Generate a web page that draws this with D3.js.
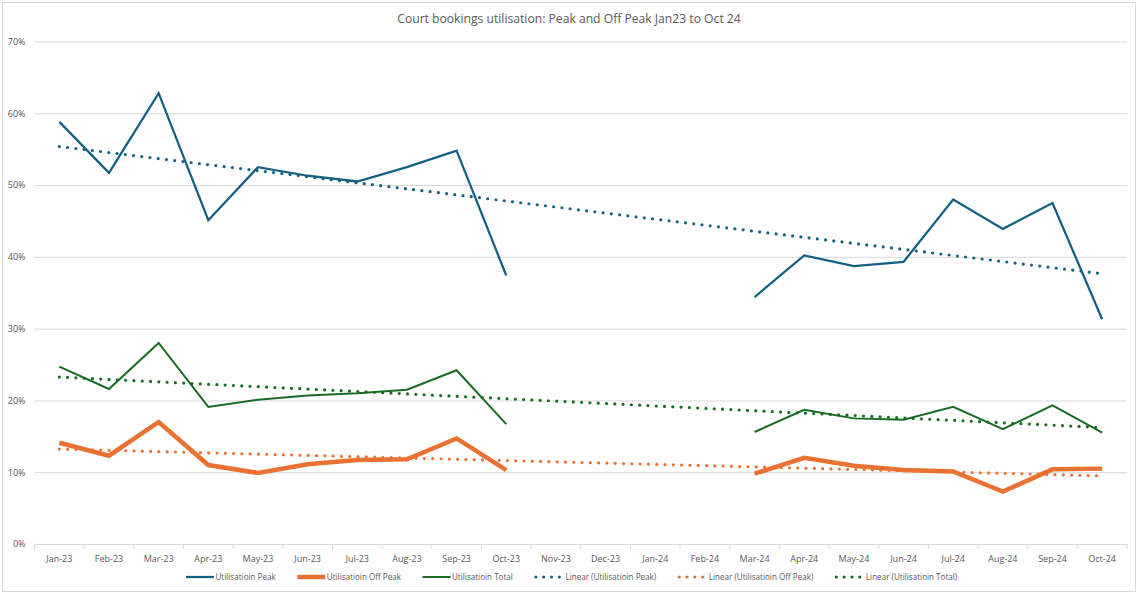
<!DOCTYPE html>
<html>
<head>
<meta charset="utf-8">
<script src="https://cdn.jsdelivr.net/npm/d3@7"></script>
<style>
  body { margin: 0; background: #fff; }
  #chart { width: 1138px; height: 594px; }
  text { font-family: "Open Sans", "Liberation Sans", sans-serif; fill: #595959; }
</style>
</head>
<body>
<div id="chart"></div>
<script>
// Datos
const months = ['Jan-23','Feb-23','Mar-23','Apr-23','May-23','Jun-23','Jul-23','Aug-23','Sep-23','Oct-23','Nov-23','Dec-23',
  'Jan-24','Feb-24','Mar-24','Apr-24','May-24','Jun-24','Jul-24','Aug-24','Sep-24','Oct-24'];
const peak = [0.588,0.517,0.628,0.451,0.525,0.513,0.505,0.525,0.548,0.374,null,null,
  null,null,0.344,0.402,0.387,0.393,0.480,0.439,0.475,0.313];
const offPeak = [0.141,0.123,0.170,0.110,0.099,0.111,0.117,0.118,0.147,0.103,null,null,
  null,null,0.098,0.120,0.109,0.103,0.101,0.073,0.104,0.105];
const total = [0.247,0.216,0.280,0.191,0.201,0.207,0.210,0.215,0.242,0.167,null,null,
  null,null,0.156,0.187,0.175,0.173,0.191,0.160,0.193,0.155];
const yTicks = [0,0.1,0.2,0.3,0.4,0.5,0.6,0.7];

const COLOR_PEAK = '#156082', COLOR_OFF = '#E97132', COLOR_TOTAL = '#196B24';

const series = [
  {name: 'Utilisatioin Peak', values: peak, color: COLOR_PEAK, width: 2.25},
  {name: 'Utilisatioin Off Peak', values: offPeak, color: COLOR_OFF, width: 4.5},
  {name: 'Utilisatioin Total', values: total, color: COLOR_TOTAL, width: 2}
];

//Tendencia lineal (mínimos cuadrados, x = 1..n como Excel)
function linearFit(values) {
  let pts = values.map((v, i) => [i + 1, v]).filter(p => p[1] != null);
  let mx = d3.mean(pts, p => p[0]), my = d3.mean(pts, p => p[1]);
  let b = d3.sum(pts, p => (p[0] - mx) * (p[1] - my)) / d3.sum(pts, p => (p[0] - mx) * (p[0] - mx));
  let a = my - b * mx;
  return values.map((v, i) => a + b * (i + 1));
}

let W = 1138, H = 594;
let margin = {top: 41.5, right: 11, bottom: 50, left: 34.5};
let width = W - margin.left - margin.right,
    height = H - margin.top - margin.bottom;

let svg = d3.select('#chart').append('svg')
  .attr('width', W).attr('height', H);

svg.append('rect')
  .attr('x', 2.5).attr('y', 2.5).attr('width', W - 5).attr('height', H - 5)
  .attr('fill', '#fff').attr('stroke', '#d9d9d9').attr('stroke-width', 1);

// Título (ajustado al ancho del original, ~344px)
let title = svg.append('text')
  .attr('x', 569).attr('y', 22.5)
  .attr('text-anchor', 'middle')
  .style('font-size', '12px')
  .text('Court bookings utilisation: Peak and Off Peak Jan23 to Oct 24');
title.style('font-size', (12 * 344 / title.node().getComputedTextLength()) + 'px');

let g = svg.append('g').attr('transform', `translate(${margin.left},${margin.top})`);

let x = d3.scaleBand().domain(months).range([0, width]).padding(0);
let y = d3.scaleLinear().domain([0, 0.7]).range([height, 0]);
let cx = d => x(d) + x.bandwidth() / 2;

// Eje Y + rejilla
let yAxis = function(g) {
  g.call(d3.axisLeft(y).tickValues(yTicks).tickFormat(d3.format('.0%')).tickSize(-width).tickPadding(9));
  g.call(g => g.select('.domain').remove());
  g.selectAll('.tick line').attr('stroke', '#d9d9d9').attr('stroke-width', 1)
    .filter(d => d === 0).remove();
  g.selectAll('.tick text').style('font-size', '9px').attr('fill', '#595959');
};
g.append('g').call(yAxis);

// Eje X
let xAxis = function(g) {
  g.call(d3.axisBottom(x).tickSize(0).tickPadding(12));
  g.select('.domain').attr('stroke', '#d9d9d9');
  g.selectAll('.tick text').style('font-size', '9px').attr('fill', '#595959');
};
let xg = g.append('g').attr('transform', `translate(0,${height})`).call(xAxis);
xg.selectAll('.sep')
  .data(months.concat(['end']))
  .enter().append('line')
  .attr('x1', (d, i) => i * x.bandwidth()).attr('x2', (d, i) => i * x.bandwidth())
  .attr('y1', 0).attr('y2', 5)
  .attr('stroke', '#d9d9d9');

// Líneas de tendencia
let trendLine = d3.line().x((d, i) => cx(months[i])).y(d => y(d));
series.forEach(s => {
  g.append('path')
    .datum(linearFit(s.values))
    .attr('d', trendLine)
    .attr('fill', 'none')
    .attr('stroke', s.color)
    .attr('stroke-width', 3.2)
    .attr('stroke-linecap', 'round')
    .attr('stroke-dasharray', '0 8.3');
});

// Series
let line = d3.line()
  .defined(d => d != null)
  .x((d, i) => cx(months[i]))
  .y(d => y(d));
series.forEach(s => {
  g.append('path')
    .datum(s.values)
    .attr('d', line)
    .attr('fill', 'none')
    .attr('stroke', s.color)
    .attr('stroke-width', s.width)
    .attr('stroke-linejoin', 'miter');
});

// Leyenda
let legendItems = series.map(s => ({label: s.name, color: s.color, width: s.width, dotted: false}))
  .concat(series.map(s => ({label: 'Linear (' + s.name + ')', color: s.color, width: 3.2, dotted: true})));

let legend = svg.append('g');
let items = legend.selectAll('g').data(legendItems).enter().append('g');
items.append('line')
  .attr('x1', d => d.dotted ? 1.5 : 0).attr('x2', d => d.dotted ? 25 : 28)
  .attr('y1', 0).attr('y2', 0)
  .attr('stroke', d => d.color)
  .attr('stroke-width', d => d.width)
  .attr('stroke-linecap', d => d.dotted ? 'round' : 'butt')
  .attr('stroke-dasharray', d => d.dotted ? '0 7.8' : null);
let labels = items.append('text')
  .attr('x', d => d.dotted ? 31 : 29.5).attr('y', 3)
  .style('font-size', '9px')
  .text(d => d.label);

// ancho total del texto en el original ~483px
let textW = d3.sum(labels.nodes(), n => n.getComputedTextLength());
labels.style('font-size', (9 * 483 / textW) + 'px');

let xPos = 0;
items.each(function(d) {
  let it = d3.select(this);
  let w = (d.dotted ? 31 : 29.5) + it.select('text').node().getComputedTextLength();
  it.attr('transform', `translate(${xPos},0)`);
  xPos += w + 21.5;
});
let legendW = xPos - 21.5;
legend.attr('transform', `translate(${571.6 - legendW / 2},577)`);
</script>
</body>
</html>
